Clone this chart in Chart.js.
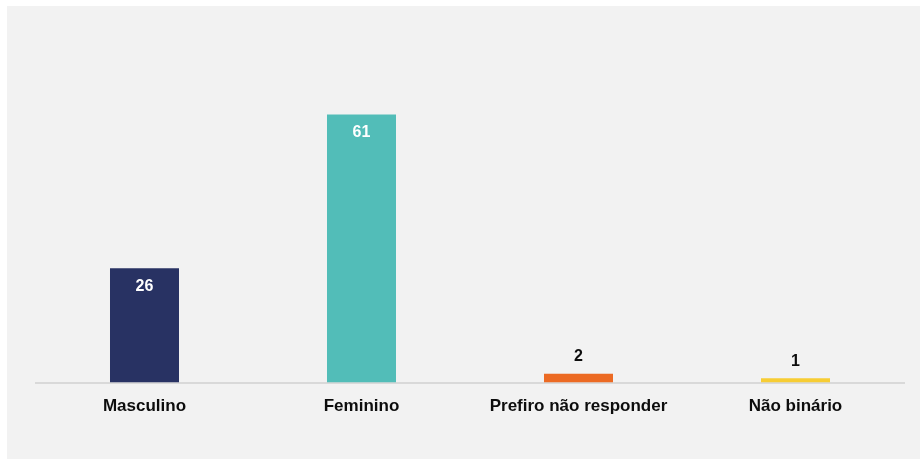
<!DOCTYPE html>
<html>
<head>
<meta charset="utf-8">
<script src="https://cdn.jsdelivr.net/npm/chart.js@4/dist/chart.umd.min.js"></script>
<style>
  html, body { margin: 0; padding: 0; background: #ffffff; }
  #wrap { position: absolute; left: 7px; top: 6px; width: 913px; height: 453px; background: #f2f2f2; }
</style>
</head>
<body>
<div id="wrap"><canvas id="myChart"></canvas></div>
<script>
const categorias = ["Masculino", "Feminino", "Prefiro não responder", "Não binário"];
const valores = [26, 61, 2, 1];
const cores = ["#283263", "#52bdb8", "#ec6a23", "#f7cd34"];

// rótulos de valor: dentro da barra (branco) ou acima (preto)
const rotulos = {
    id: "rotulos",
    afterDatasetsDraw: (chart) => {
        const ctx = chart.ctx;
        const meta = chart.getDatasetMeta(0);
        ctx.save();
        ctx.font = "bold 16px 'Liberation Sans', Arial, sans-serif";
        ctx.textAlign = "center";
        ctx.textBaseline = "middle";
        meta.data.forEach((bar, i) => {
            const v = valores[i];
            if (v >= 10) {
                ctx.fillStyle = "#ffffff";
                ctx.fillText(v, bar.x, bar.y + 18);
            } else {
                ctx.fillStyle = "#0d0d0d";
                ctx.fillText(v, bar.x, bar.y - 17);
            }
        });
        ctx.restore();
    }
};

const ctx = document.querySelector("#myChart").getContext("2d");
new Chart(ctx, {
    type: "bar",
    data: {
        labels: categorias,
        datasets: [{
            data: valores,
            backgroundColor: cores,
            barPercentage: 0.318,
            categoryPercentage: 1
        }]
    },
    options: {
        responsive: true,
        maintainAspectRatio: false,
        animation: false,
        layout: {
            padding: { left: 29, right: 16, top: 69, bottom: 28 }
        },
        plugins: {
            legend: { display: false },
            tooltip: { enabled: false }
        },
        scales: {
            x: {
                grid: { display: false, drawTicks: false },
                border: { color: "#d9d9d9", width: 2 },
                ticks: {
                    color: "#0d0d0d",
                    padding: 14,
                    font: { family: "'Liberation Sans', Arial, sans-serif", size: 17, weight: "bold" }
                }
            },
            y: {
                display: false,
                min: 0,
                max: 70
            }
        }
    },
    plugins: [rotulos]
});
</script>
</body>
</html>
